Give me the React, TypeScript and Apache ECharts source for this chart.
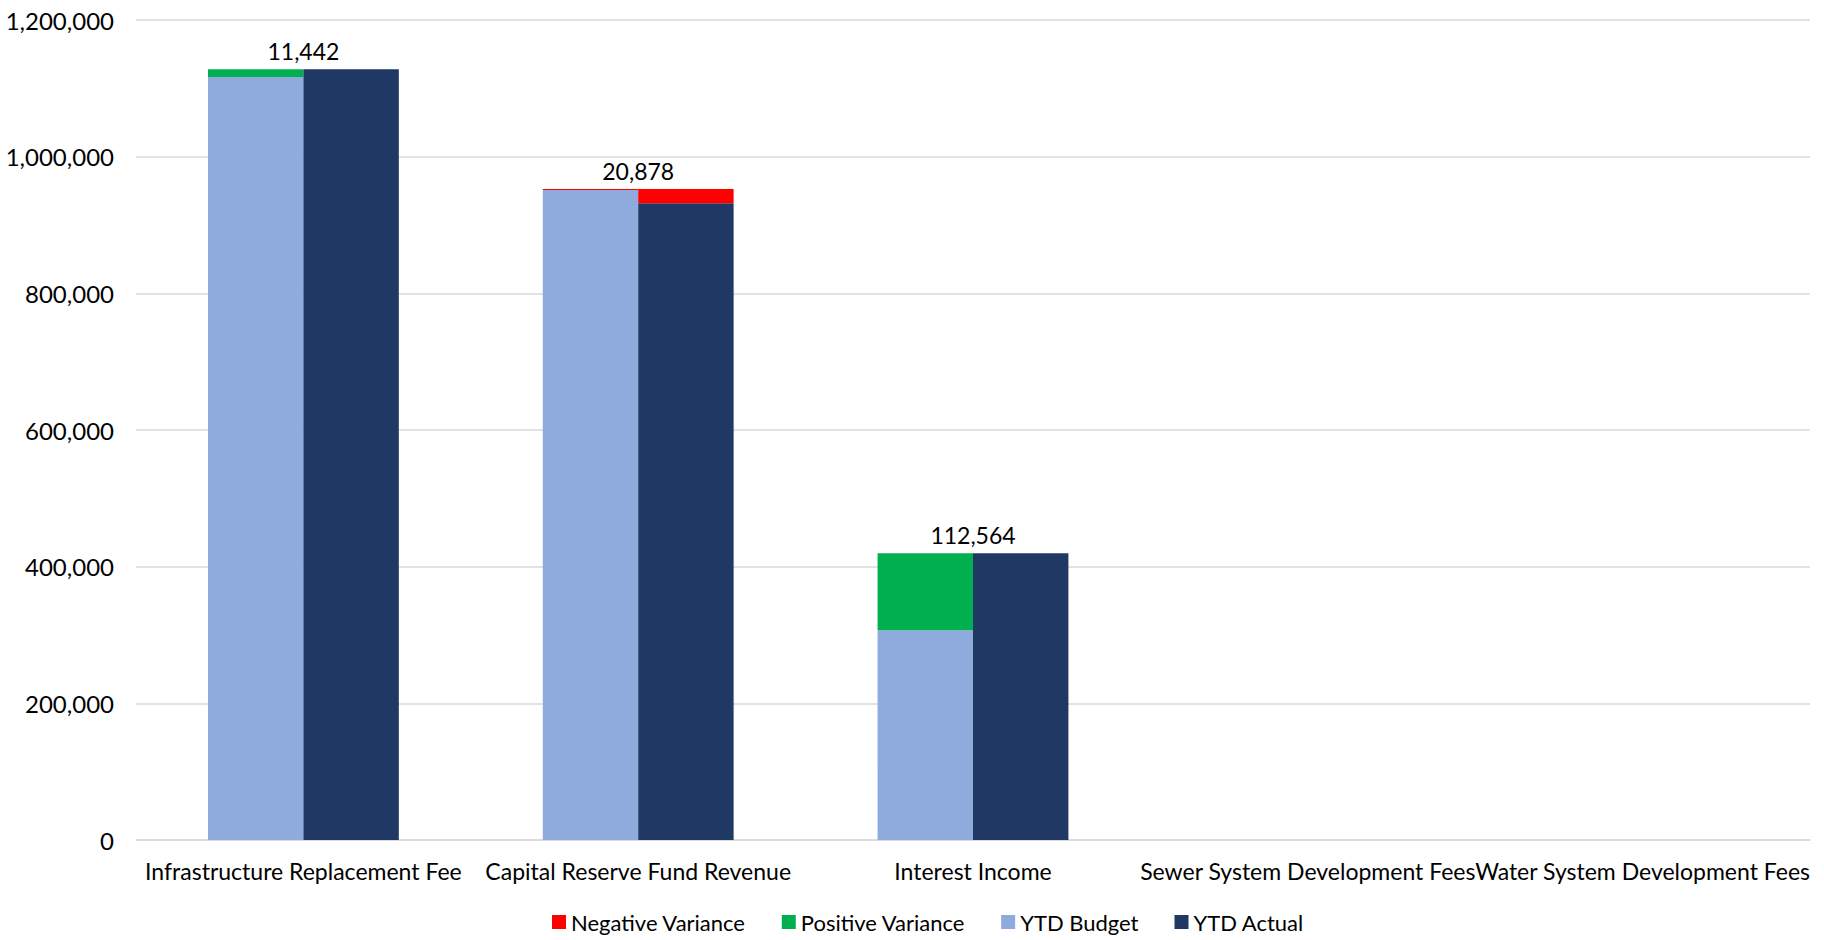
import React, { useEffect, useRef } from "react";
import * as echarts from "echarts";

const categories = [
  "Infrastructure Replacement Fee",
  "Capital Reserve Fund Revenue",
  "Interest Income",
  "Sewer System Development Fees",
  "Water System Development Fees",
];
const ytdBudget = [1116500, 951100, 307036, 0, 0];
const positiveVariance = [11442, 0, 112564, 0, 0];
const negativeVarianceBudget = [0, 1500, 0, 0, 0];
const ytdActual = [1127942, 931722, 419600, 0, 0];
const negativeVariance = [0, 20878, 0, 0, 0];
const varianceLabels = [11442, 20878, 112564, null, null];
const yTicks = [0, 200000, 400000, 600000, 800000, 1000000, 1200000];

const FONT = "Lato, 'Open Sans', sans-serif";
const fmt = (v: number) => v.toLocaleString("en-US");

export default function App() {
  const ref = useRef<HTMLDivElement>(null);
  useEffect(() => {
    if (!ref.current) return;
    const chart = echarts.init(ref.current, undefined, { renderer: "svg" });
    const tops = categories.map((_, i) =>
      varianceLabels[i] == null
        ? null
        : Math.max(
            ytdBudget[i] + positiveVariance[i] + negativeVarianceBudget[i],
            ytdActual[i] + negativeVariance[i]
          )
    );
    chart.setOption({
      animation: false,
      textStyle: { fontFamily: FONT },
      grid: { left: 136, right: 14, top: 20, bottom: 100, containLabel: false },
      legend: {
        data: ["Negative Variance", "Positive Variance", "YTD Budget", "YTD Actual"],
        bottom: 2,
        left: 547,
        itemWidth: 14,
        itemHeight: 14,
        itemGap: 36,
        icon: "rect",
        textStyle: { fontSize: 22, color: "#000", fontFamily: FONT },
      },
      xAxis: {
        type: "category",
        data: categories,
        axisLine: { lineStyle: { color: "#D9D9D9", width: 1.5 } },
        axisTick: { show: false },
        axisLabel: { color: "#000", fontSize: 23, margin: 19, interval: 0, fontFamily: FONT },
      },
      yAxis: {
        type: "value",
        min: yTicks[0],
        max: yTicks[yTicks.length - 1],
        interval: 200000,
        axisLine: { show: false },
        axisTick: { show: false },
        splitLine: { lineStyle: { color: "#D9D9D9", width: 1.5 } },
        axisLabel: { color: "#000", fontSize: 24, margin: 22, formatter: (v: number) => fmt(v), fontFamily: FONT },
      },
      series: [
        {
          name: "YTD Budget",
          type: "bar",
          stack: "budget",
          data: ytdBudget,
          itemStyle: { color: "#8FAADC" },
          barGap: "0%",
          barCategoryGap: "43%",
        },
        {
          name: "Positive Variance",
          type: "bar",
          stack: "budget",
          data: positiveVariance,
          itemStyle: { color: "#00B050" },
        },
        {
          name: "Negative Variance",
          type: "bar",
          stack: "budget",
          data: negativeVarianceBudget,
          itemStyle: { color: "#FF0000" },
        },
        {
          name: "YTD Actual",
          type: "bar",
          stack: "actual",
          data: ytdActual,
          itemStyle: { color: "#203864" },
        },
        {
          name: "Negative Variance",
          type: "bar",
          stack: "actual",
          data: negativeVariance,
          itemStyle: { color: "#FF0000" },
        },
        {
          name: "labels",
          type: "scatter",
          data: tops,
          symbolSize: 2,
          itemStyle: { color: "rgba(0,0,0,0)" },
          silent: true,
          label: {
            show: true,
            position: "top",
            distance: 6,
            color: "#000000",
            opacity: 1,
            fontSize: 23,
            fontFamily: FONT,
            formatter: (p: any) => (varianceLabels[p.dataIndex] == null ? "" : fmt(varianceLabels[p.dataIndex] as number)),
          },
        },
      ],
    });
    return () => chart.dispose();
  }, []);
  return <div ref={ref} style={{ position: "fixed", left: 0, top: 0, width: 1824, height: 940, background: "#fff" }} />;
}
